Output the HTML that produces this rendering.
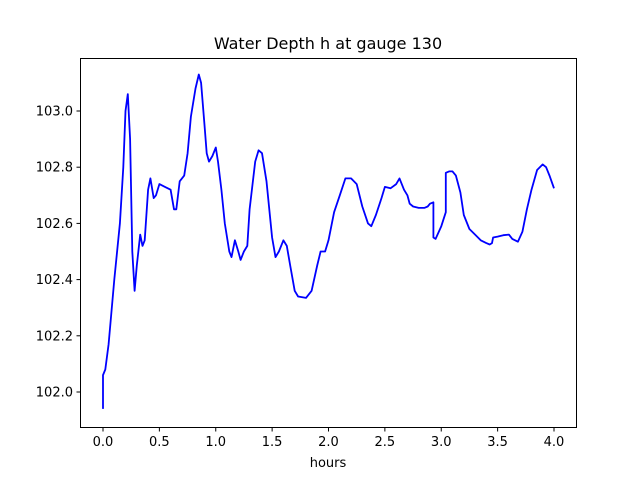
<!DOCTYPE html>
<html><head><meta charset="utf-8"><style>
body{margin:0;background:#fff}
svg{display:block;font-family:"DejaVu Sans","Liberation Sans",sans-serif}
</style></head><body>
<svg id="chart" width="640" height="480">
<rect width="640" height="480" fill="#fff"/>
<text x="328" y="49" text-anchor="middle" font-size="16">Water Depth h at gauge 130</text>
<g id="ticks"></g>
<path id="line" fill="none" stroke="#0000ff" stroke-width="1.8" stroke-linejoin="round"/>
<rect x="80.5" y="58.5" width="496" height="369" fill="none" stroke="#000" stroke-width="1"/>
<text x="328" y="467" text-anchor="middle" font-size="13">hours</text>
</svg>
<script>
const times=[0,0,0.02,0.05,0.1,0.15,0.18,0.2,0.22,0.24,0.26,0.28,0.3,0.33,0.35,0.37,0.4,0.42,0.45,0.47,0.5,0.55,0.6,0.63,0.65,0.68,0.72,0.75,0.78,0.82,0.85,0.87,0.9,0.92,0.94,0.97,1.0,1.02,1.05,1.08,1.12,1.14,1.17,1.2,1.22,1.25,1.28,1.3,1.35,1.38,1.41,1.45,1.5,1.53,1.56,1.6,1.63,1.66,1.7,1.73,1.8,1.85,1.9,1.93,1.97,2.0,2.05,2.1,2.15,2.2,2.25,2.3,2.35,2.38,2.42,2.47,2.5,2.55,2.6,2.63,2.67,2.7,2.72,2.75,2.8,2.85,2.88,2.9,2.93,2.93,2.95,3.0,3.04,3.04,3.07,3.1,3.13,3.17,3.2,3.25,3.3,3.35,3.4,3.43,3.45,3.46,3.5,3.55,3.6,3.63,3.68,3.72,3.76,3.8,3.85,3.9,3.93,3.96,4.0];
const depths=[101.94,102.06,102.08,102.17,102.4,102.6,102.8,103.0,103.06,102.9,102.5,102.36,102.45,102.56,102.52,102.54,102.72,102.76,102.69,102.7,102.74,102.73,102.72,102.65,102.65,102.75,102.77,102.85,102.98,103.08,103.13,103.1,102.95,102.85,102.82,102.84,102.87,102.82,102.72,102.6,102.5,102.48,102.54,102.5,102.47,102.5,102.52,102.65,102.82,102.86,102.85,102.75,102.55,102.48,102.5,102.54,102.52,102.45,102.36,102.34,102.335,102.36,102.45,102.5,102.5,102.54,102.64,102.7,102.76,102.76,102.74,102.66,102.6,102.59,102.63,102.69,102.73,102.725,102.74,102.76,102.72,102.7,102.67,102.66,102.655,102.655,102.66,102.67,102.675,102.55,102.545,102.59,102.64,102.78,102.785,102.785,102.77,102.71,102.63,102.58,102.56,102.54,102.53,102.525,102.53,102.55,102.553,102.558,102.56,102.545,102.535,102.57,102.65,102.72,102.79,102.81,102.80,102.77,102.725];
const xTicks=[0,0.5,1,1.5,2,2.5,3,3.5,4];
const xTickLabels=["0.0","0.5","1.0","1.5","2.0","2.5","3.0","3.5","4.0"];
const yTicks=[102.0,102.2,102.4,102.6,102.8,103.0];
const yTickLabels=["102.0","102.2","102.4","102.6","102.8","103.0"];
const X=t=>103+t*112.75;
const Y=v=>392-(v-102)*281;
const NS="http://www.w3.org/2000/svg";
const g=document.getElementById('ticks');
function mk(tag,attrs){const e=document.createElementNS(NS,tag);for(const k in attrs)e.setAttribute(k,attrs[k]);return e;}
xTicks.forEach((t,i)=>{
 const l=mk('line',{x1:X(t),x2:X(t),y1:427.5,y2:431.5,stroke:'#000'});
 
 
 g.appendChild(l);
 const tx=mk('text',{x:X(t),y:446,'text-anchor':'middle','font-size':13});
 
 
 tx.textContent=xTickLabels[i];g.appendChild(tx);
});
yTicks.forEach((v,i)=>{
 const l=mk('line',{x1:76.5,x2:80.5,y1:Y(v),y2:Y(v),stroke:'#000'});
 
 
 g.appendChild(l);
 const tx=mk('text',{x:73,y:Y(v)+4.5,'text-anchor':'end','font-size':13});
 
 
 tx.textContent=yTickLabels[i];g.appendChild(tx);
});
document.getElementById('line').setAttribute('d',times.map((t,i)=>(i?'L':'M')+X(t).toFixed(1)+' '+Y(depths[i]).toFixed(1)).join(' '));
</script>
</body></html>
